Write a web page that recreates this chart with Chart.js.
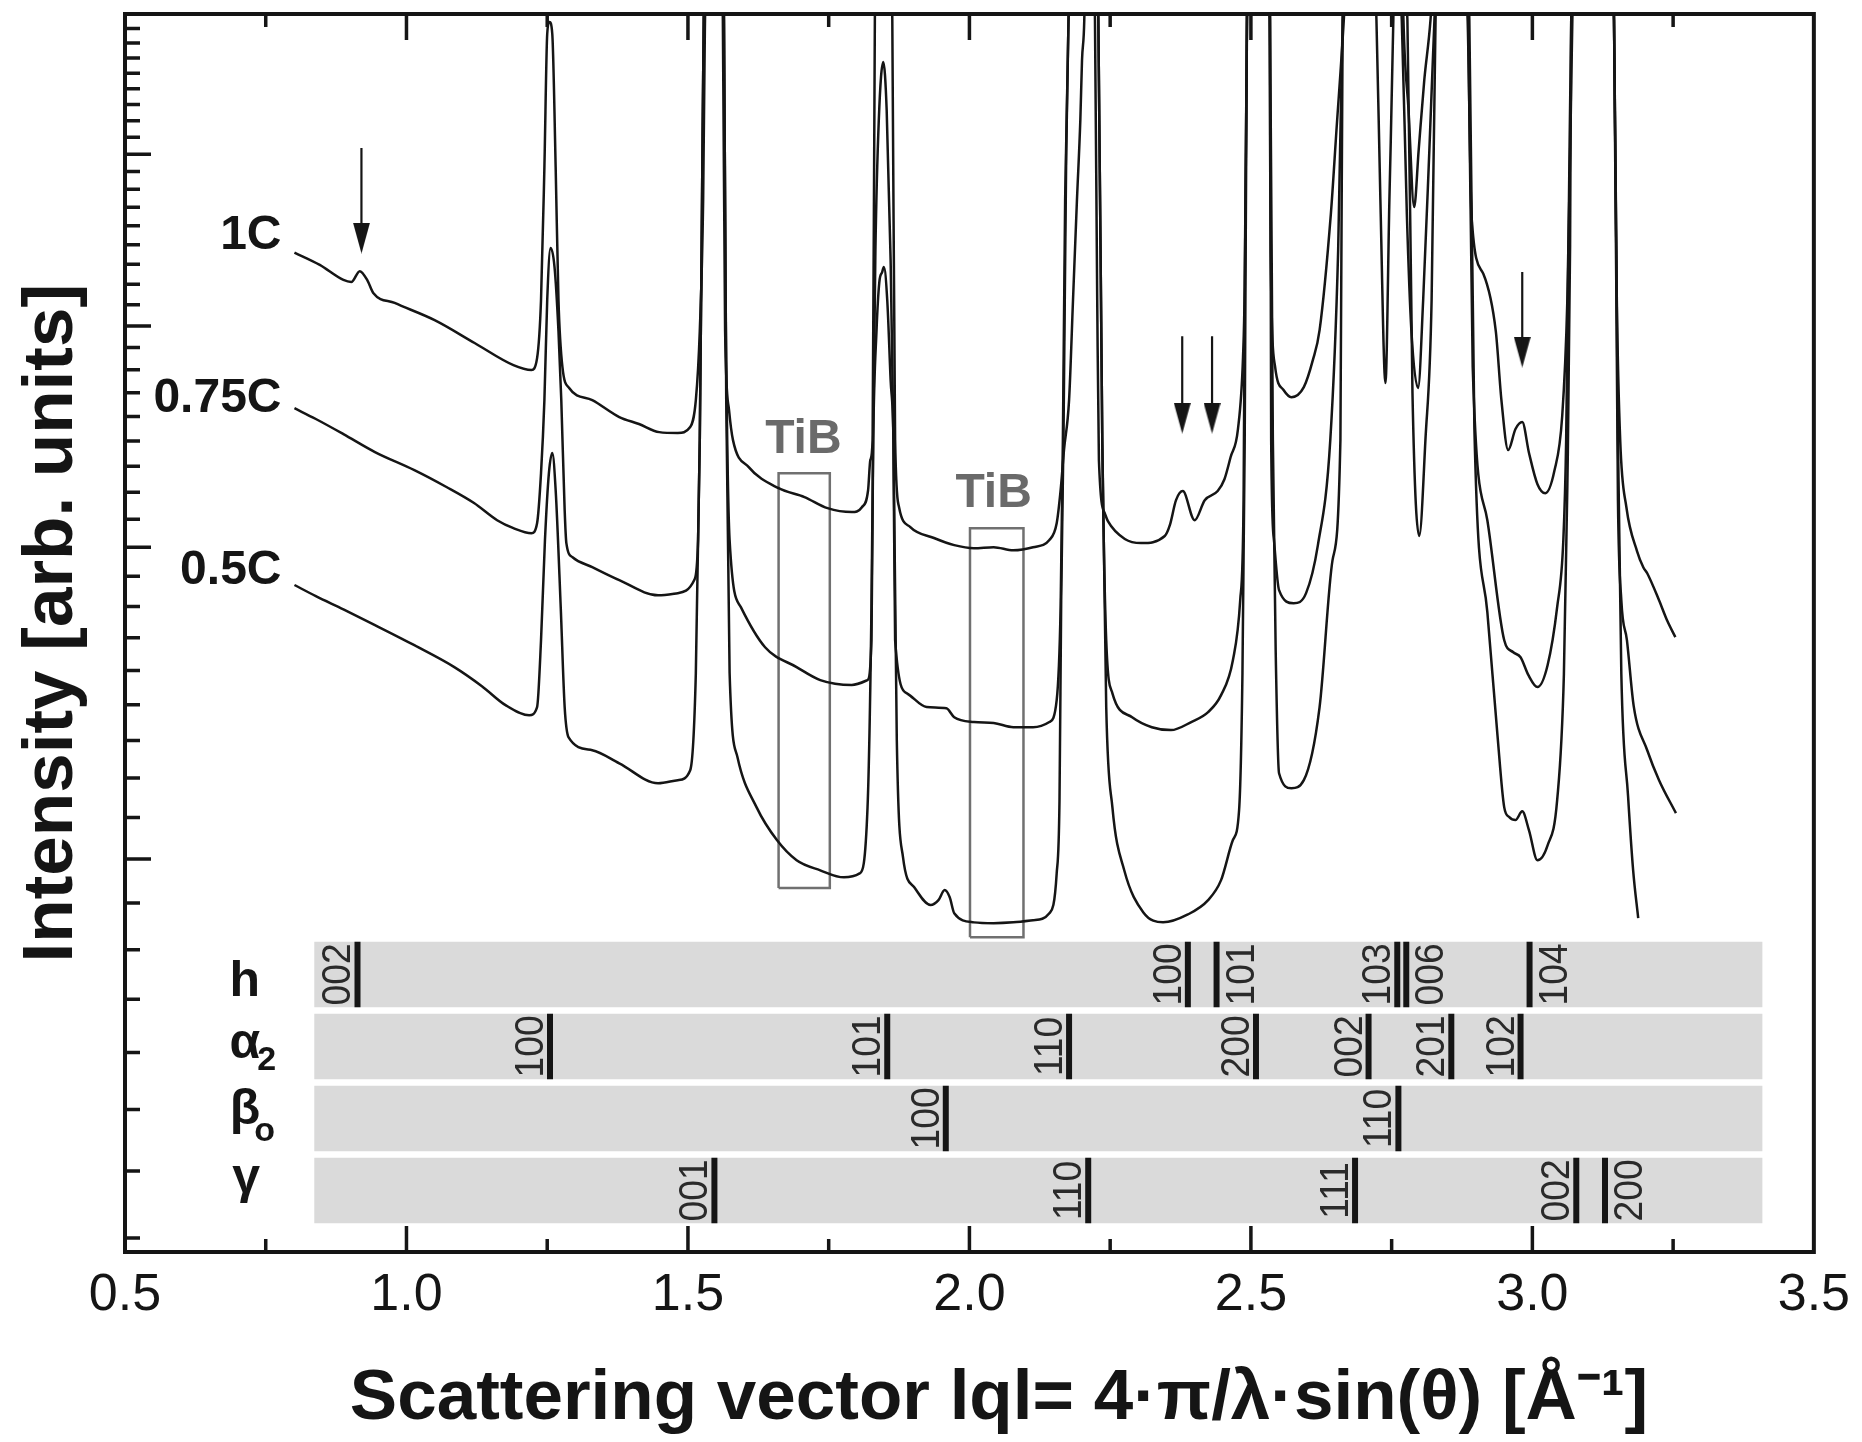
<!DOCTYPE html>
<html><head><meta charset="utf-8">
<script src="https://cdn.jsdelivr.net/npm/chart.js@4.4.1/dist/chart.umd.min.js"></script>
<style>html,body{margin:0;padding:0;background:#fff;}canvas{display:block;}</style>
</head><body>
<canvas id="c" width="1862" height="1442"></canvas>
<script>
// ---------------- data (q in 1/Å, intensity in arb. units, log axis) ----------------
const q1C = [0.801,0.846,0.888,0.902,0.917,0.931,0.941,0.979,1.050,1.121,1.190,1.222,1.232,1.239,1.245,1.250,1.254,1.259,1.265,1.270,1.277,1.289,1.330,1.378,1.413,1.449,1.482,1.504,1.514,1.521,1.527,1.530,1.544,1.562,1.566,1.573,1.580,1.608,1.661,1.707,1.748,1.791,1.809,1.820,1.824,1.828,1.832,1.848,1.863,1.868,1.875,1.895,1.937,1.973,2.008,2.043,2.078,2.113,2.142,2.155,2.162,2.168,2.177,2.184,2.191,2.197,2.200,2.204,2.213,2.223,2.227,2.230,2.241,2.246,2.276,2.305,2.347,2.356,2.367,2.379,2.400,2.418,2.441,2.453,2.464,2.477,2.486,2.489,2.493,2.512,2.533,2.535,2.543,2.558,2.572,2.594,2.610,2.622,2.642,2.652,2.665,2.693,2.723,2.730,2.739,2.746,2.753,2.761,2.771,2.780,2.790,2.798,2.808,2.819,2.853,2.885,2.892,2.913,2.935,2.945,2.957,2.970,2.982,2.994,3.009,3.023,3.039,3.053,3.062,3.068,3.071,3.108,3.145,3.150,3.156,3.167,3.186,3.197,3.204,3.225,3.239,3.254];
const i1C = [4.40,4.33,4.246,4.235,4.295,4.241,4.175,4.121,4.030,3.912,3.801,3.777,3.836,4.137,4.917,5.846,5.938,5.846,4.917,4.137,3.792,3.690,3.632,3.553,3.521,3.484,3.480,3.507,3.632,3.973,4.711,5.860,9,5.953,3.973,3.585,3.448,3.329,3.239,3.202,3.156,3.140,3.160,3.231,3.360,3.448,5.953,9,5.953,3.448,3.160,3.079,3.036,3.008,2.996,3.000,2.988,3.000,3.028,3.095,3.231,3.404,3.632,4.137,4.711,5.227,5.652,5.953,9,5.953,4.137,3.360,3.132,3.103,3.032,3.016,3.044,3.087,3.189,3.227,3.107,3.189,3.227,3.277,3.373,3.498,3.841,4.213,5.953,9,5.953,4.414,3.792,3.680,3.646,3.694,3.826,3.978,4.626,5.160,5.953,9,5.953,4.711,3.714,4.711,5.953,9,5.953,5.296,4.668,5.027,5.507,5.953,9,5.953,4.608,4.279,3.973,3.632,3.404,3.498,3.530,3.391,3.256,3.218,3.312,3.558,4.126,5.214,5.953,9,5.953,4.137,3.448,3.160,2.984,2.923,2.900,2.800,2.729,2.669];

const q075C = [0.801,0.839,0.888,0.944,1.014,1.071,1.120,1.161,1.190,1.222,1.232,1.239,1.245,1.250,1.256,1.263,1.270,1.275,1.281,1.284,1.295,1.330,1.378,1.447,1.482,1.511,1.518,1.521,1.525,1.528,1.544,1.564,1.567,1.574,1.594,1.637,1.693,1.735,1.791,1.819,1.826,1.829,1.833,1.839,1.847,1.853,1.860,1.865,1.868,1.889,1.924,1.959,1.973,2.008,2.043,2.078,2.113,2.142,2.155,2.162,2.166,2.170,2.176,2.207,2.229,2.236,2.243,2.254,2.289,2.324,2.358,2.394,2.424,2.447,2.468,2.481,2.487,2.489,2.493,2.512,2.534,2.536,2.541,2.550,2.576,2.598,2.619,2.641,2.655,2.663,2.716,2.768,2.777,2.785,2.797,2.806,2.817,2.826,2.853,2.886,2.894,2.920,2.950,2.966,2.979,2.993,3.009,3.027,3.044,3.055,3.060,3.065,3.069,3.108,3.145,3.152,3.158,3.168,3.180,3.204,3.225,3.255];
const i075C = [3.594,3.544,3.475,3.395,3.316,3.244,3.177,3.107,3.075,3.055,3.095,3.303,3.632,4.137,4.426,4.318,3.973,3.632,3.148,3.016,2.961,2.923,2.874,2.818,2.826,2.874,3.028,3.448,4.711,5.953,9,5.953,4.137,3.028,2.775,2.634,2.567,2.524,2.508,2.524,2.658,3.448,4.414,5.227,5.637,5.296,4.357,3.448,2.658,2.481,2.437,2.433,2.405,2.390,2.387,2.374,2.374,2.390,2.459,2.775,3.448,4.711,5.953,9,5.953,3.448,2.658,2.481,2.405,2.374,2.365,2.390,2.421,2.475,2.590,2.800,3.189,4.137,5.953,9,5.953,3.448,3.028,2.837,2.789,2.826,3.008,3.448,4.414,5.953,9,5.953,4.626,3.978,3.690,4.137,5.027,5.953,9,5.953,3.792,3.107,2.658,2.617,2.600,2.540,2.501,2.573,2.775,3.028,3.448,4.711,5.953,9,5.953,3.189,2.800,2.658,2.440,2.304,2.216,2.123];

const q05C = [0.801,0.839,0.888,0.944,1.014,1.085,1.134,1.176,1.218,1.232,1.239,1.246,1.253,1.259,1.265,1.274,1.281,1.288,1.330,1.378,1.447,1.482,1.504,1.514,1.521,1.525,1.528,1.544,1.564,1.568,1.574,1.588,1.622,1.658,1.693,1.735,1.777,1.805,1.819,1.826,1.829,1.835,1.840,1.845,1.848,1.854,1.860,1.865,1.871,1.882,1.902,1.931,1.945,1.956,1.965,1.973,2.008,2.043,2.078,2.113,2.142,2.155,2.160,2.163,2.167,2.172,2.176,2.207,2.229,2.236,2.243,2.254,2.275,2.309,2.344,2.388,2.424,2.447,2.468,2.479,2.485,2.489,2.493,2.512,2.534,2.539,2.544,2.550,2.572,2.594,2.622,2.645,2.659,2.663,2.720,2.778,2.787,2.799,2.810,2.821,2.828,2.855,2.888,2.897,2.920,2.938,2.950,2.959,2.970,2.982,2.994,3.009,3.027,3.044,3.056,3.062,3.067,3.069,3.108,3.145,3.152,3.158,3.170,3.179,3.188];
const i05C = [2.856,2.815,2.767,2.711,2.641,2.567,2.504,2.443,2.411,2.437,2.658,3.028,3.303,3.391,3.231,2.775,2.437,2.343,2.304,2.265,2.207,2.216,2.245,2.547,3.448,4.711,5.953,9,5.953,3.632,2.547,2.283,2.139,2.050,1.997,1.971,1.953,1.963,2.139,2.775,3.448,3.978,4.235,4.290,4.318,4.137,3.728,3.448,2.334,2.005,1.928,1.884,1.896,1.921,1.903,1.864,1.842,1.840,1.842,1.847,1.864,1.963,2.159,2.800,3.448,5.027,5.953,9,5.953,3.448,2.437,2.139,1.971,1.866,1.842,1.861,1.896,1.946,2.050,2.131,2.547,3.448,5.953,9,5.953,3.448,2.624,2.236,2.193,2.216,2.437,2.950,3.448,5.953,9,5.953,3.666,3.044,3.448,4.137,5.953,9,5.953,3.498,2.757,2.349,2.139,2.112,2.104,2.128,2.076,1.997,2.036,2.159,2.544,3.231,4.443,5.953,9,5.953,3.448,2.544,2.170,1.971,1.852];

// curve names and where they are written
const curveNames = ['1C', '0.75C', '0.5C'];
const curveLabelQ = [0.778, 0.778, 0.778];
const curveLabelI = [4.50, 3.64, 2.91];

// arrows marking extra reflections
const arrowQ = [0.920, 2.378, 2.431, 2.982];
const arrowTopI = [5.040, 3.947, 3.947, 4.290];
const arrowHeadI = [4.484, 3.548, 3.548, 3.866];

// TiB boxes
const tibQ = [1.705, 2.043];
const tibI = [3.450, 3.216];
const boxQ = [[1.661, 1.752], [2.001, 2.096]];
const boxI = [[1.926, 3.303], [1.807, 3.075]];

// reflection marker rows (phase, reflections)
const rowMain = ['h', 'α', 'β', 'γ'];
const rowSub = ['', '2', 'o', ''];
const rowLevel = [3, 2, 1, 0];
const bandQ = [0.836, 3.409];
const hQ = [0.913, 2.388, 2.439, 2.760, 2.776, 2.995];
const hHkl = ['002', '100', '101', '103', '006', '104'];
const hSide = ['L', 'L', 'R', 'L', 'R', 'R'];
const a2Q = [1.255, 1.854, 2.177, 2.509, 2.709, 2.856, 2.979];
const a2Hkl = ['100', '101', '110', '200', '002', '201', '102'];
const a2Side = ['L', 'L', 'L', 'L', 'L', 'L', 'L'];
const boQ = [1.958, 2.762];
const boHkl = ['100', '110'];
const boSide = ['L', 'L'];
const gQ = [1.547, 2.211, 2.685, 3.078, 3.129];
const gHkl = ['001', '110', '111', '002', '200'];
const gSide = ['L', 'L', 'L', 'L', 'R'];

// axes
const xLabelVals = [0.5, 1.0, 1.5, 2.0, 2.5, 3.0, 3.5];
const xMajor = [1.0, 1.5, 2.0, 2.5, 3.0];
const xMinor = [0.75, 1.25, 1.75, 2.25, 2.75, 3.25];
const yMajor = [2, 3, 4, 5];
const yMinorCount = 8;
const yMin = 1.2, yMax = 6;
const xTitle = '   Scattering vector lql= 4·π/λ·sin(θ) [Å⁻¹]';
const yTitle = ' Intensity [arb. units]';

// ---------------- build ----------------
const FONT = "'Liberation Sans', Arial, Helvetica, sans-serif";
const INK = '#151515';
const yMinor = [];
for (let n = 1; n <= 5; n++) for (let k = 1; k <= yMinorCount; k++) {
  const v = n + k / (yMinorCount + 1);
  if (v >= yMin && v <= yMax) yMinor.push(v);
}
const pts = (qs, is) => qs.map((q, i) => ({x: q, y: is[i]}));
const BAND_LO = 0.40, BAND_HI = 1.31;
const rows = [
  {q: hQ, hkl: hHkl, side: hSide},
  {q: a2Q, hkl: a2Hkl, side: a2Side},
  {q: boQ, hkl: boHkl, side: boSide},
  {q: gQ, hkl: gHkl, side: gSide}
];

const datasets = [];
[[q1C, i1C], [q075C, i075C], [q05C, i05C]].forEach(([qs, is], k) => {
  datasets.push({label: curveNames[k], data: pts(qs, is), borderColor: INK, borderWidth: 2.5,
    pointRadius: 0, fill: false, cubicInterpolationMode: 'monotone', order: 1});
});
boxQ.forEach((bq, k) => {
  const bi = boxI[k];
  datasets.push({label: 'box' + k, data: [{x: bq[0], y: bi[0]}, {x: bq[1], y: bi[0]}, {x: bq[1], y: bi[1]}, {x: bq[0], y: bi[1]}, {x: bq[0], y: bi[0]}],
    borderColor: '#707070', borderWidth: 2.5, pointRadius: 0, fill: false, tension: 0, order: 2});
});
const shaft = [];
arrowQ.forEach((q, k) => { shaft.push({x: q, y: arrowTopI[k]}, {x: q, y: arrowHeadI[k]}, {x: q, y: null}); });
datasets.push({label: 'arrows', data: shaft, borderColor: INK, borderWidth: 2.2, pointRadius: 0, tension: 0, spanGaps: false, order: 0});
const head = document.createElement('canvas');
head.width = 17; head.height = 31;
(() => { const h = head.getContext('2d'); h.fillStyle = INK; h.beginPath(); h.moveTo(0, 0); h.lineTo(17, 0); h.lineTo(8.5, 31); h.closePath(); h.fill(); })();
datasets.push({label: 'heads', data: pts(arrowQ, arrowHeadI), showLine: false, pointStyle: head, pointRadius: 9, order: 0});
rows.forEach((r, k) => {
  const lv = rowLevel[k];
  datasets.push({label: 'band' + k, yAxisID: 'yb', data: [{x: bandQ[0], y: lv + BAND_HI}, {x: bandQ[1], y: lv + BAND_HI}],
    fill: {value: lv + BAND_LO}, backgroundColor: '#dadada', borderWidth: 0, pointRadius: 0, tension: 0, order: 20});
  const seg = [];
  r.q.forEach(q => { seg.push({x: q, y: lv + BAND_LO}, {x: q, y: lv + BAND_HI}, {x: q, y: null}); });
  datasets.push({label: 'mark' + k, yAxisID: 'yb', data: seg, borderColor: INK, borderWidth: 6, borderCapStyle: 'butt',
    pointRadius: 0, tension: 0, spanGaps: false, fill: false, order: 10});
});

const overlay = {
  id: 'overlay',
  afterDatasetsDraw(chart) {
    const {ctx, chartArea: a, scales: {x, y, yb}} = chart;
    ctx.save();
    ctx.strokeStyle = INK; ctx.lineWidth = 3.5; ctx.lineCap = 'butt';
    ctx.beginPath();
    yMinor.forEach(v => { const p = y.getPixelForValue(v); ctx.moveTo(a.left, p); ctx.lineTo(a.left + 15, p); });
    yMajor.forEach(v => { const p = y.getPixelForValue(v); ctx.moveTo(a.left, p); ctx.lineTo(a.left + 26, p); });
    xMinor.forEach(v => { const p = x.getPixelForValue(v); ctx.moveTo(p, a.bottom); ctx.lineTo(p, a.bottom - 13); ctx.moveTo(p, a.top); ctx.lineTo(p, a.top + 13); });
    xMajor.forEach(v => { const p = x.getPixelForValue(v); ctx.moveTo(p, a.bottom); ctx.lineTo(p, a.bottom - 26); ctx.moveTo(p, a.top); ctx.lineTo(p, a.top + 26); });
    ctx.stroke();
    ctx.lineWidth = 4;
    ctx.strokeRect(a.left, a.top, a.right - a.left, a.bottom - a.top);

    ctx.fillStyle = INK;
    ctx.font = `bold 48px ${FONT}`;
    ctx.textAlign = 'right'; ctx.textBaseline = 'middle';
    curveNames.forEach((t, k) => ctx.fillText(t, x.getPixelForValue(curveLabelQ[k]), y.getPixelForValue(curveLabelI[k])));

    ctx.fillStyle = '#6a6a6a';
    ctx.textAlign = 'center';
    tibQ.forEach((q, k) => ctx.fillText('TiB', x.getPixelForValue(q), y.getPixelForValue(tibI[k])));

    const bandLeft = x.getPixelForValue(bandQ[0]);
    const mainDy = [22, 12, 6, 3];
    const subDy = [0, 24, 23, 0];
    rows.forEach((r, k) => {
      const cy = yb.getPixelForValue(rowLevel[k] + (BAND_LO + BAND_HI) / 2);
      ctx.fillStyle = INK;
      ctx.textBaseline = 'alphabetic';
      ctx.textAlign = 'right';
      ctx.font = `bold 50px ${FONT}`;
      const rx = bandLeft - 54;
      ctx.fillText(rowMain[k], rx, cy + mainDy[k]);
      if (rowSub[k]) {
        ctx.textAlign = 'left';
        ctx.font = `bold 34px ${FONT}`;
        ctx.fillText(rowSub[k], rx - (k === 2 ? 6 : 3), cy + subDy[k]);
      }
      ctx.font = `40px ${FONT}`;
      ctx.fillStyle = '#2a2a2a';
      r.q.forEach((q, i) => {
        const px = x.getPixelForValue(q);
        const bx = r.side[i] === 'L' ? px - 3 - 4 : px + 3 + 5 + 29;
        ctx.save();
        ctx.translate(bx, cy);
        ctx.rotate(-Math.PI / 2);
        ctx.scale(0.93, 1);
        ctx.textAlign = 'center';
        ctx.textBaseline = 'alphabetic';
        ctx.fillText(r.hkl[i], 0, 0);
        ctx.restore();
      });
    });
    ctx.restore();
  }
};

new Chart(document.getElementById('c'), {
  type: 'line',
  data: {datasets},
  options: {
    responsive: false, animation: false, devicePixelRatio: 1,
    layout: {padding: {top: 14, right: 44, bottom: 0, left: 0}},
    plugins: {legend: {display: false}, tooltip: {enabled: false}},
    elements: {point: {radius: 0}, line: {tension: 0}},
    scales: {
      x: {
        type: 'linear', position: 'bottom', min: 0.5, max: 3.5,
        afterFit: s => { s.height = 190; },
        afterBuildTicks: s => { s.ticks = xLabelVals.map(v => ({value: v})); },
        ticks: {callback: v => Number(v).toFixed(1), autoSkip: false, maxRotation: 0, padding: 12,
          color: INK, font: {family: FONT, size: 52}},
        grid: {display: false, drawTicks: false},
        border: {display: false},
        title: {display: true, text: xTitle, color: INK, padding: {top: 0, bottom: 0},
          font: {family: FONT, size: 71, weight: 'bold'}}
      },
      y: {
        type: 'logarithmic', position: 'left', min: yMin, max: yMax,
        afterFit: s => { s.width = 125; },
        ticks: {display: false},
        grid: {display: false, drawTicks: false},
        border: {display: false},
        title: {display: true, text: yTitle, color: INK, padding: {top: 10, bottom: 0},
          font: {family: FONT, size: 71, weight: 'bold'}}
      },
      yb: {type: 'linear', display: false, min: 0, max: 1238 / 72}
    }
  },
  plugins: [overlay]
});
</script>
</body></html>
